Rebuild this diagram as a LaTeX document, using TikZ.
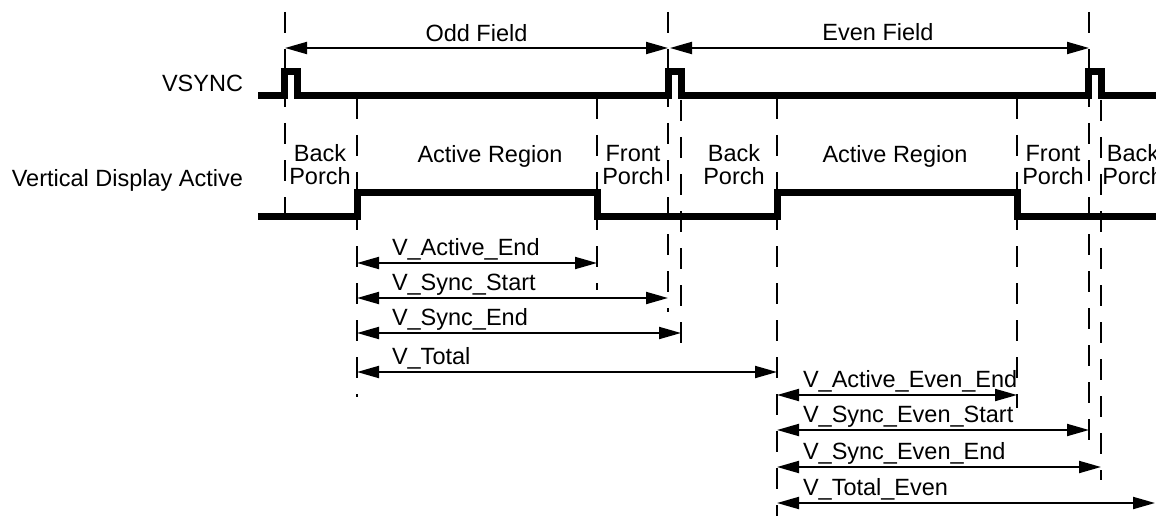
\documentclass[tikz,border=0pt]{standalone}
\usepackage{fontspec}
\setmainfont{Liberation Sans}
\usetikzlibrary{arrows.meta}
\begin{document}
\begin{tikzpicture}[x=1pt,y=-1pt,
  sig/.style={line width=7pt, line join=miter, line cap=butt},
  guide/.style={line width=2pt, dash pattern=on 21pt off 16pt},
  dim/.style={line width=2pt, {Triangle[length=22pt,width=12pt]}-{Triangle[length=22pt,width=12pt]}},
  lbl/.style={font=\fontsize{23.5}{23}\selectfont, inner sep=0pt, outer sep=0pt},
  two/.style={lbl, align=center}]
\useasboundingbox (0,0) rectangle (1156,516);
% signals
\draw[sig] (258,96) -- (284.5,96) -- (284.5,71.5) -- (297.5,71.5) -- (297.5,96)
  -- (668.5,96) -- (668.5,71.5) -- (681.5,71.5) -- (681.5,96)
  -- (1088.5,96) -- (1088.5,71.5) -- (1101.5,71.5) -- (1101.5,96) -- (1160,96);
\draw[sig] (258,216) -- (357,216) -- (357,192) -- (597,192) -- (597,216)
  -- (777,216) -- (777,192) -- (1017,192) -- (1017,216) -- (1160,216);
% guides
\draw[guide] (285,12) -- (285,213);
\draw[guide] (357,98) -- (357,397);
\draw[guide] (597,98) -- (597,290);
\draw[guide] (668,12) -- (668,312);
\draw[guide] (681,100) -- (681,348);
\draw[guide] (777,98) -- (777,516);
\draw[guide] (1017,98) -- (1017,408);
\draw[guide] (1089,12) -- (1089,443);
\draw[guide] (1101,100) -- (1101,480);
% coordinates
\coordinate (of1) at (285,48); \coordinate (of2) at (668,48);
\coordinate (ef1) at (670,48); \coordinate (ef2) at (1089,48);
\coordinate (ae1) at (357,263); \coordinate (ae2) at (597,263);
\coordinate (ss1) at (357,298); \coordinate (ss2) at (668,298);
\coordinate (se1) at (357,333); \coordinate (se2) at (681,333);
\coordinate (vt1) at (357,372); \coordinate (vt2) at (777,372);
\coordinate (eae1) at (777,395); \coordinate (eae2) at (1017,395);
\coordinate (ess1) at (777,430); \coordinate (ess2) at (1089,430);
\coordinate (ese1) at (777,467); \coordinate (ese2) at (1101,467);
\coordinate (evt1) at (777,503); \coordinate (evt2) at (1155,503);
% dimension arrows
\draw[dim] (of1) -- (of2);
\draw[dim] (ef1) -- (ef2);
\draw[dim] (ae1) -- (ae2);
\draw[dim] (ss1) -- (ss2);
\draw[dim] (se1) -- (se2);
\draw[dim] (vt1) -- (vt2);
\draw[dim] (eae1) -- (eae2);
\draw[dim] (ess1) -- (ess2);
\draw[dim] (ese1) -- (ese2);
\draw[dim] (evt1) -- (evt2);
% labels
\node[lbl, anchor=base] (oddf) at (476.5,42) {Odd Field};
\node[lbl, anchor=base] (evenf) at (878,41) {Even Field};
\node[lbl, anchor=base east] (vsync) at (243,92) {VSYNC};
\node[lbl, anchor=base east] (vda) at (243,186) {Vertical Display Active};
\node[two] (bp1) at (320,165) {Back\\Porch};
\node[lbl, anchor=base] (ar1) at (490,162) {Active Region};
\node[two] (fp1) at (633,165) {Front\\Porch};
\node[two] (bp2) at (734,165) {Back\\Porch};
\node[lbl, anchor=base] (ar2) at (895,162) {Active Region};
\node[two] (fp2) at (1053,165) {Front\\Porch};
\node[two] (bp3) at (1133,165) {Back\\Porch};
\node[lbl, anchor=base west] (lae) at (392,255) {V\_Active\_End};
\node[lbl, anchor=base west] (lss) at (392,290) {V\_Sync\_Start};
\node[lbl, anchor=base west] (lse) at (392,325) {V\_Sync\_End};
\node[lbl, anchor=base west] (lvt) at (392,364) {V\_Total};
\node[lbl, anchor=base west] (leae) at (803,387) {V\_Active\_Even\_End};
\node[lbl, anchor=base west] (less) at (803,422) {V\_Sync\_Even\_Start};
\node[lbl, anchor=base west] (lese) at (803,459) {V\_Sync\_Even\_End};
\node[lbl, anchor=base west] (levt) at (803,495) {V\_Total\_Even};
\end{tikzpicture}
\end{document}
